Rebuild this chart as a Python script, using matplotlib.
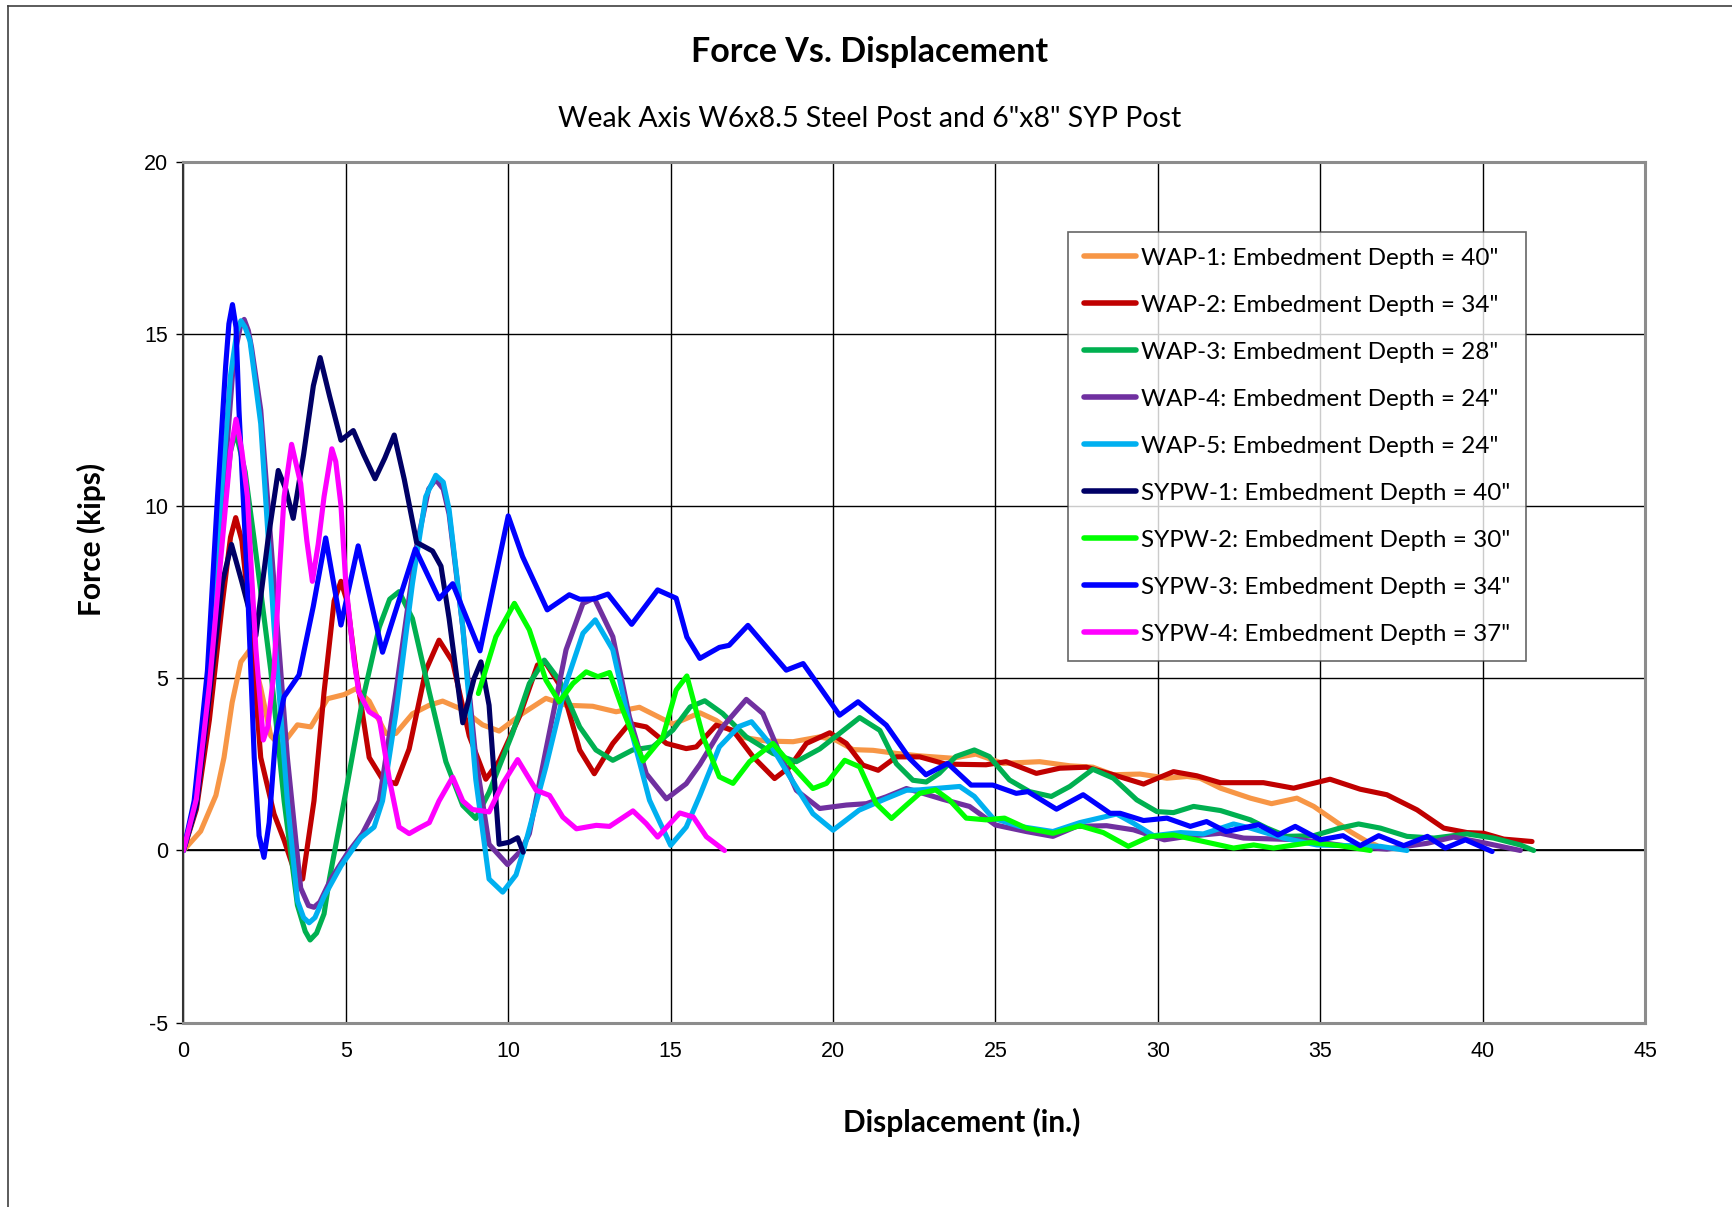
import matplotlib
matplotlib.use('Agg')
import matplotlib.pyplot as plt
from matplotlib.lines import Line2D

plt.rcParams['axes.unicode_minus'] = False

# ---- data (displacement in., force kips) ----
wap1_x = [0, 0.53, 1.0, 1.25, 1.5, 1.77, 2.07, 2.38, 2.69, 3.0, 3.51, 3.92, 4.44, 4.95, 5.31, 5.72,
          6.23, 6.54, 7.05, 7.57, 7.98, 8.6, 9.21, 9.72, 10.44, 11.16, 11.78, 12.6, 13.32, 14.04, 15.07,
          15.9, 16.4, 17.13, 17.95, 18.77, 19.59, 20.1, 20.62, 21.23, 21.95, 22.65, 23.68, 24.4, 25.23,
          26.36, 27.29, 28.0, 28.63, 29.45, 30.28, 30.9, 31.3, 31.93, 32.85, 33.5, 34.28, 34.8, 35.4,
          35.92, 36.44, 36.75]
wap1_y = [0, 0.56, 1.6, 2.7, 4.3, 5.48, 5.86, 4.72, 3.33, 3.02, 3.65, 3.59, 4.41, 4.53, 4.7, 4.34,
          3.4, 3.4, 3.97, 4.22, 4.34, 4.09, 3.65, 3.47, 3.98, 4.42, 4.22, 4.19, 4.03, 4.16, 3.67,
          4.0, 3.78, 3.3, 3.18, 3.16, 3.3, 3.2, 2.93, 2.91, 2.82, 2.75, 2.68, 2.8, 2.53,
          2.58, 2.46, 2.42, 2.2, 2.22, 2.1, 2.15, 2.1, 1.81, 1.52, 1.36, 1.52, 1.28, 0.89,
          0.55, 0.26, 0.14]

wap2_x = [0, 0.4, 0.8, 1.2, 1.45, 1.61, 1.8, 2.07, 2.38, 2.79, 3.1, 3.41, 3.67, 4.02, 4.33, 4.64, 4.85,
          5.05, 5.31, 5.72, 6.13, 6.54, 6.95, 7.46, 7.87, 8.29, 8.8, 9.31, 9.72, 10.34, 10.9, 11.16, 11.68,
          12.2, 12.65, 13.22, 13.73, 14.25, 14.87, 15.48, 15.79, 16.4, 16.92, 17.54, 18.2, 18.67, 19.18,
          19.9, 20.41, 20.92, 21.39, 21.95, 22.67, 23.47, 24.71, 25.33, 26.26, 26.98, 27.8, 28.63, 29.56,
          30.48, 31.2, 31.92, 33.25, 34.18, 35.3, 36.23, 37.05, 37.98, 38.8, 39.52, 40.03, 40.65, 41.52]
wap2_y = [0, 1.2, 3.8, 7.2, 9.1, 9.67, 9.0, 6.49, 2.7, 1.06, 0.3, -0.58, -0.83, 1.44, 4.6, 7.25, 7.82,
          7.2, 5.23, 2.7, 2.07, 1.94, 2.95, 5.23, 6.11, 5.48, 3.33, 2.07, 2.6, 3.88, 5.39, 5.44, 4.66,
          2.92, 2.23, 3.11, 3.69, 3.59, 3.11, 2.96, 3.01, 3.64, 3.49, 2.72, 2.09, 2.43, 3.11,
          3.42, 3.11, 2.48, 2.33, 2.72, 2.72, 2.51, 2.49, 2.58, 2.24, 2.39, 2.42, 2.2, 1.93,
          2.29, 2.17, 1.97, 1.97, 1.81, 2.07, 1.78, 1.62, 1.18, 0.65, 0.52, 0.5, 0.33, 0.26]

wap3_x = [0, 0.4, 0.8, 1.2, 1.45, 1.61, 1.9, 2.18, 2.69, 3.1, 3.51, 3.75, 3.9, 4.1, 4.33, 4.5, 5.0, 5.5,
          6.03, 6.35, 6.64, 7.05, 7.57, 8.08, 8.6, 9.0, 9.41, 10.13, 10.65, 11.11, 11.57, 12.2, 12.7,
          13.22, 13.83, 14.45, 15.07, 15.6, 16.05, 16.6, 17.33, 18.15, 18.87, 19.59, 20.2, 20.82, 21.44,
          21.95, 22.46, 22.87, 23.27, 23.78, 24.35, 24.81, 25.43, 26.05, 26.72, 27.29, 28.0, 28.63, 29.35,
          29.97, 30.48, 31.1, 31.93, 32.85, 33.36, 33.97, 34.8, 35.6, 36.18, 36.85, 37.67, 38.5, 39.52,
          40.34, 41.16, 41.57]
wap3_y = [0, 1.5, 5.0, 9.5, 11.6, 12.17, 11.0, 9.02, 5.23, 1.44, -1.59, -2.35, -2.6, -2.4, -1.84, -0.8,
          1.7, 4.3, 6.49, 7.3, 7.52, 6.74, 4.6, 2.58, 1.31, 0.93, 1.69, 3.4, 4.85, 5.53, 4.95, 3.59, 2.92,
          2.62, 2.92, 3.01, 3.5, 4.17, 4.35, 3.98, 3.3, 2.82, 2.58, 2.95, 3.4, 3.86, 3.49,
          2.52, 2.04, 1.99, 2.24, 2.73, 2.92, 2.73, 2.05, 1.71, 1.57, 1.86, 2.36, 2.1, 1.47,
          1.13, 1.1, 1.28, 1.16, 0.89, 0.65, 0.41, 0.43, 0.65, 0.77, 0.65, 0.41, 0.36, 0.48,
          0.36, 0.16, 0.0]

wap4_x = [0, 0.4, 0.8, 1.2, 1.55, 1.75, 1.87, 2.0, 2.1, 2.38, 2.79, 3.2, 3.61, 3.85, 4.02, 4.2, 4.54,
          5.05, 5.51, 6.03, 6.54, 7.16, 7.55, 7.77, 8.0, 8.18, 8.6, 9.0, 9.41, 9.98, 10.4, 10.65, 11.16,
          11.78, 12.3, 12.65, 13.22, 13.73, 14.25, 14.87, 15.48, 15.9, 16.6, 17.33, 17.84, 18.36, 18.87,
          19.59, 20.41, 21.03, 21.64, 22.26, 22.77, 23.37, 24.2, 25.0, 25.95, 26.77, 27.5, 28.42, 29.25,
          30.2, 30.9, 31.93, 32.64, 34.4, 35.9, 37.05, 38.3, 39.1, 40.0, 41.16]
wap4_y = [0, 1.3, 4.6, 10.0, 14.3, 15.2, 15.43, 15.1, 14.6, 12.8, 7.75, 2.7, -1.09, -1.6, -1.65, -1.5,
          -0.83, -0.08, 0.49, 1.44, 4.6, 8.76, 10.5, 10.78, 10.5, 9.77, 6.49, 2.7, 0.18, -0.41, 0.0, 0.49,
          2.92, 5.83, 7.18, 7.33, 6.21, 3.88, 2.23, 1.5, 1.94, 2.5, 3.59, 4.39, 3.98, 2.82, 1.75,
          1.22, 1.32, 1.36, 1.56, 1.8, 1.66, 1.49, 1.28, 0.74, 0.55, 0.41, 0.7, 0.72, 0.6,
          0.31, 0.41, 0.5, 0.36, 0.31, 0.12, 0.04, 0.21, 0.39, 0.23, 0.0]

wap5_x = [0, 0.35, 0.75, 1.1, 1.45, 1.65, 1.77, 1.9, 2.05, 2.38, 2.79, 3.2, 3.51, 3.7, 3.87, 4.05,
          4.33, 4.85, 5.46, 5.87, 6.13, 6.54, 7.05, 7.46, 7.77, 8.0, 8.18, 8.6, 9.0, 9.41, 9.83, 10.24,
          10.5, 11.16, 11.78, 12.3, 12.68, 13.22, 13.73, 14.35, 15.0, 15.48, 15.9, 16.5, 17.1, 17.49,
          18.05, 18.67, 19.38, 20.0, 20.8, 21.64, 22.26, 22.65, 23.27, 23.9, 24.35, 24.92, 25.74, 26.77,
          27.6, 28.73, 29.25, 29.87, 30.7, 31.4, 32.33, 32.85, 33.87, 34.9, 35.92, 36.85, 37.67]
wap5_y = [0, 1.2, 4.5, 9.5, 13.8, 15.1, 15.39, 15.2, 14.8, 12.4, 6.5, 1.44, -1.46, -1.95, -2.1, -1.95,
          -1.34, -0.45, 0.37, 0.68, 1.44, 3.97, 7.75, 10.28, 10.9, 10.7, 9.9, 6.49, 2.07, -0.83, -1.21,
          -0.71, 0.1, 2.43, 4.85, 6.31, 6.7, 5.83, 3.69, 1.46, 0.15, 0.68, 1.6, 3.01, 3.6, 3.74,
          3.11, 2.14, 1.07, 0.59, 1.17, 1.51, 1.75, 1.76, 1.81, 1.86, 1.57, 0.94, 0.7, 0.55,
          0.81, 1.06, 0.79, 0.43, 0.52, 0.48, 0.77, 0.65, 0.36, 0.16, 0.14, 0.12, 0.0]

sypw1_x = [0, 0.4, 0.8, 1.2, 1.48, 1.8, 2.23, 2.6, 2.92, 3.15, 3.38, 3.7, 4.0, 4.21, 4.5, 4.85, 5.23,
           5.55, 5.9, 6.2, 6.49, 6.8, 7.18, 7.67, 7.93, 8.18, 8.6, 8.95, 9.16, 9.41, 9.72, 10.03, 10.29,
           10.46]
sypw1_y = [0, 1.3, 4.5, 7.8, 8.89, 7.8, 6.24, 9.0, 11.04, 10.5, 9.65, 11.5, 13.5, 14.32, 13.2, 11.92, 12.2,
           11.5, 10.8, 11.4, 12.07, 10.78, 8.95, 8.7, 8.26, 6.74, 3.71, 5.0, 5.48, 4.22, 0.18, 0.24, 0.37,
           -0.05]

sypw2_x = [9.08, 9.62, 10.19, 10.65, 11.16, 11.57, 11.99, 12.4, 12.76, 13.12, 13.53, 14.15, 14.76, 15.17,
           15.5, 16.0, 16.5, 16.92, 17.43, 18.15, 18.67, 19.38, 19.8, 20.36, 20.82, 21.33, 21.8, 22.26,
           22.67, 23.16, 23.58, 24.1, 24.71, 25.28, 25.95, 26.77, 27.6, 28.32, 29.09, 29.76, 30.48, 31.41,
           32.33, 32.95, 33.56, 34.7, 35.6, 36.54]
sypw2_y = [4.56, 6.21, 7.18, 6.41, 4.95, 4.32, 4.85, 5.19, 5.05, 5.17, 4.08, 2.6, 3.3, 4.66,
           5.07, 3.3, 2.14, 1.95, 2.58, 3.11, 2.53, 1.8, 1.95, 2.62, 2.43, 1.36, 0.93, 1.32,
           1.66, 1.76, 1.47, 0.94, 0.89, 0.94, 0.65, 0.5, 0.72, 0.52, 0.12, 0.41, 0.45, 0.26,
           0.07, 0.16, 0.07, 0.23, 0.14, 0.0]

sypw3_x = [0, 0.33, 0.74, 1.05, 1.3, 1.4, 1.51, 1.62, 1.71, 1.97, 2.18, 2.33, 2.48, 2.64, 2.84, 3.1,
           3.56, 4.0, 4.38, 4.85, 5.38, 6.13, 7.14, 7.87, 8.29, 9.13, 10.0, 10.44, 11.2, 11.88, 12.2,
           12.65, 13.07, 13.8, 14.6, 15.17, 15.5, 15.9, 16.5, 16.8, 17.38, 17.95, 18.56, 19.08, 19.59,
           20.2, 20.77, 21.64, 22.36, 22.86, 23.53, 24.25, 24.92, 25.64, 26.0, 26.88, 27.7, 28.53, 28.84,
           29.56, 30.28, 31.0, 31.5, 32.1, 33.1, 33.7, 34.23, 35.0, 35.7, 36.23, 36.8, 37.57, 38.3,
           38.85, 39.47, 40.29]
sypw3_y = [0, 1.44, 5.23, 10.28, 14.07, 15.3, 15.86, 15.2, 12.8, 7.75, 2.7, 0.43, -0.2, 0.81, 3.33, 4.47,
           5.1, 7.1, 9.08, 6.55, 8.85, 5.76, 8.76, 7.31, 7.75, 5.8, 9.72, 8.54, 6.99, 7.43, 7.3,
           7.31, 7.45, 6.57, 7.57, 7.33, 6.2, 5.58, 5.9, 5.96, 6.54, 5.91, 5.24, 5.43, 4.75,
           3.93, 4.32, 3.64, 2.67, 2.2, 2.53, 1.9, 1.9, 1.66, 1.71, 1.2, 1.62, 1.08, 1.08,
           0.87, 0.94, 0.7, 0.84, 0.55, 0.75, 0.45, 0.7, 0.31, 0.43, 0.14, 0.43, 0.14, 0.41,
           0.07, 0.31, -0.03]

sypw4_x = [0, 0.4, 0.8, 1.2, 1.45, 1.62, 1.8, 1.97, 2.1, 2.23, 2.46, 2.6, 2.79, 2.95, 3.1, 3.33, 3.61,
           3.8, 3.97, 4.15, 4.33, 4.57, 4.69, 4.85, 5.0, 5.26, 5.4, 5.72, 6.03, 6.34, 6.64, 6.95, 7.25,
           7.57, 7.87, 8.29, 8.6, 8.9, 9.41, 9.83, 10.29, 10.86, 11.27, 11.68, 12.1, 12.71, 13.12, 13.84,
           14.25, 14.6, 15.28, 15.7, 16.1, 16.66]
sypw4_y = [0, 1.5, 4.8, 9.0, 11.6, 12.53, 11.6, 10.28, 8.0, 5.86, 3.21, 3.6, 5.23, 8.0, 10.28, 11.8, 10.66,
           9.0, 7.82, 8.9, 10.28, 11.67, 11.3, 10.03, 7.75, 5.48, 4.6, 4.03, 3.84, 2.07, 0.68, 0.49, 0.65,
           0.81, 1.44, 2.13, 1.44, 1.19, 1.12, 1.94, 2.64, 1.75, 1.6, 0.97, 0.63, 0.73, 0.7, 1.15,
           0.78, 0.39, 1.09, 0.97, 0.4, 0.0]

labels = ['WAP-1: Embedment Depth = 40"', 'WAP-2: Embedment Depth = 34"',
          'WAP-3: Embedment Depth = 28"', 'WAP-4: Embedment Depth = 24"',
          'WAP-5: Embedment Depth = 24"', 'SYPW-1: Embedment Depth = 40"',
          'SYPW-2: Embedment Depth = 30"', 'SYPW-3: Embedment Depth = 34"',
          'SYPW-4: Embedment Depth = 37"']
colors = ['#F79646', '#C00000', '#00B050', '#7030A0', '#00B0F0',
          '#000066', '#00FF00', '#0000FF', '#FF00FF']

xs = [wap1_x, wap2_x, wap3_x, wap4_x, wap5_x, sypw1_x, sypw2_x, sypw3_x, sypw4_x]
ys = [wap1_y, wap2_y, wap3_y, wap4_y, wap5_y, sypw1_y, sypw2_y, sypw3_y, sypw4_y]

x_ticks = list(range(0, 46, 5))
y_ticks = list(range(-5, 21, 5))


def main():
    fig = plt.figure(figsize=(17.32, 12.07), dpi=100, facecolor='white')
    ax = fig.add_axes([0.1059, 0.1528, 0.8439, 0.7129])

    for x, y, c, lab in zip(xs, ys, colors, labels):
        ax.plot(x, y, color=c, lw=3.7, label=lab, solid_joinstyle='round', solid_capstyle='round')

    ax.set_xlim(0, 45)
    ax.set_ylim(-5, 20)
    ax.set_xticks(x_ticks)
    ax.set_yticks(y_ticks)
    ax.grid(True, color='black', lw=1.0)
    ax.set_axisbelow(True)
    ax.axhline(0, color='black', lw=1.3, zorder=1.5)

    for side in ['top', 'right', 'bottom']:
        ax.spines[side].set_color('#8c8c8c')
        ax.spines[side].set_linewidth(2.2)
    ax.spines['left'].set_color('#333333')
    ax.spines['left'].set_linewidth(1.5)

    ax.tick_params(axis='x', length=0, pad=13, labelsize=15.5)
    ax.tick_params(axis='y', length=5, width=1, direction='out', pad=6, labelsize=15.5)
    for t in ax.get_xticklabels() + ax.get_yticklabels():
        t.set_family('Liberation Sans')

    fig.text(0.502, 0.957, 'Force Vs. Displacement', ha='center', va='center',
             fontsize=24.5, fontweight='bold', family='Lato')
    fig.text(0.502, 0.901, 'Weak Axis W6x8.5 Steel Post and 6"x8" SYP Post', ha='center', va='center',
             fontsize=20.5, family='Lato')
    fig.text(0.555, 0.0704, 'Displacement (in.)', ha='center', va='center',
             fontsize=21.5, fontweight='bold', family='Lato')
    fig.text(0.053, 0.5534, 'Force (kips)', ha='center', va='center', rotation=90,
             fontsize=21.5, fontweight='bold', family='Lato')

    leg = ax.legend(loc='upper left', bbox_to_anchor=(0.605, 0.9188), frameon=True,
                    fancybox=False, shadow=False, edgecolor='#404040',
                    prop={'family': 'Lato', 'size': 17.5}, handlelength=2.15,
                    handletextpad=0.22, labelspacing=1.07, borderpad=0.65, borderaxespad=0)
    leg.get_frame().set_linewidth(1.2)
    for h in leg.get_lines():
        h.set_linewidth(4)

    # outer chart border (only top and left are visible in the original)
    fig.add_artist(Line2D([8 / 1732, 8 / 1732], [0, 1 - 6 / 1207], color='#404040', lw=1.2))
    fig.add_artist(Line2D([8 / 1732, 1], [1 - 6 / 1207, 1 - 6 / 1207], color='#404040', lw=1.2))

    fig.savefig('out.png', dpi=100, facecolor='white')


if __name__ == '__main__':
    main()
